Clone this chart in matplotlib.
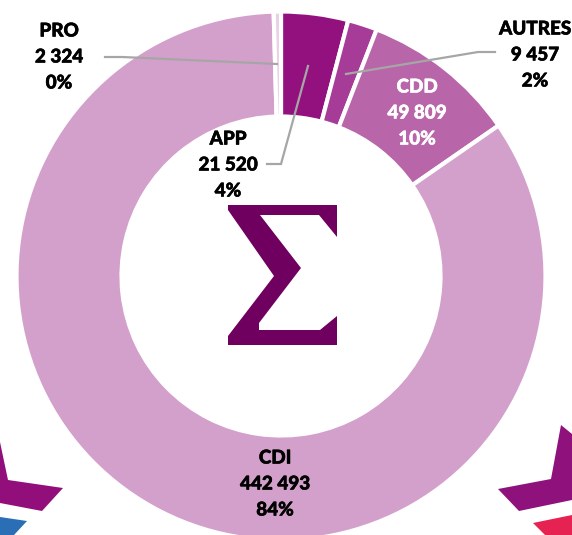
import matplotlib
matplotlib.use("Agg")
import matplotlib.pyplot as plt
import matplotlib.patheffects as pe
from matplotlib.patches import Polygon

# slices, clockwise from 12 o'clock
categories = ["APP", "AUTRES", "CDD", "CDI", "PRO"]
values = [21520, 9457, 49809, 442493, 2324]
value_labels = ["21 520", "9 457", "49 809", "442 493", "2 324"]
pct_labels = ["4%", "2%", "10%", "84%", "0%"]
colors = ["#93117E", "#A63C97", "#B865A9", "#D3A0CB", "#E9D0E5"]

W, H = 572, 535
CX, CY = 281, 276
R_OUT, R_IN = 264.5, 159.5

plt.rcParams["font.family"] = ["Lato", "DejaVu Sans"]

fig = plt.figure(figsize=(W / 100, H / 100), dpi=100)
ax = fig.add_axes([0, 0, 1, 1])

# y axis is flipped below, so counterclock here reads as clockwise on screen
ax.pie(
    values,
    colors=colors,
    center=(CX, CY),
    radius=R_OUT,
    startangle=-90,
    counterclock=True,
    wedgeprops={"width": R_OUT - R_IN, "edgecolor": "white", "linewidth": 3},
)
ax.set_xlim(0, W)
ax.set_ylim(H, 0)
ax.set_aspect("equal")
ax.axis("off")

# leader lines
leaders = {
    "PRO": ([105, 122, 277], [57, 57, 64]),
    "AUTRES": ([346, 478, 495], [74, 52, 52]),
    "APP": ([267, 281, 308], [164, 164, 66]),
}
for xs, ys in leaders.values():
    ax.plot(xs, ys, color="#A6A6A6", lw=1.6, solid_joinstyle="miter")

label_pos = {
    "APP": (228, 165),
    "AUTRES": (535, 55),
    "CDD": (417, 113),
    "CDI": (275, 484),
    "PRO": (59, 57),
}
for cat, val, pct in zip(categories, value_labels, pct_labels):
    x, y = label_pos[cat]
    color = "white" if cat == "CDD" else "black"
    for dy, txt in zip((-26, 0, 26), (cat, val, pct)):
        t = ax.text(x, y + dy, txt, ha="center", va="center", fontsize=13.6, color=color, fontweight=900)
        # Lato's heaviest face here is a bit light, thicken it slightly
        t.set_path_effects([pe.withStroke(linewidth=0.4, foreground=color)])

# sigma in the middle of the ring
sigma = [(228, 205), (337, 205), (337, 237), (319, 215), (260, 215), (301, 268),
         (259, 323), (259, 330), (320, 330), (337, 316), (337, 345), (228, 345),
         (228, 336), (274, 276), (228, 210)]
ax.add_patch(Polygon(sigma, closed=True, fc="#700060", ec="none"))

# bits of the neighbouring pictograms, cut by the image edge
corner_shapes = [
    ([(0, 442), (8, 480), (63, 488), (42, 511), (0, 503)], "#920F7B"),
    ([(0, 517), (27, 521), (14, 535), (0, 535)], "#2A6EB5"),
    ([(561, 425), (572, 434), (572, 500), (519, 511), (498, 489), (551, 479)], "#8E117C"),
    ([(533, 523), (572, 515), (572, 535), (545, 535)], "#E62253"),
]
for pts, col in corner_shapes:
    ax.add_patch(Polygon(pts, closed=True, fc=col, ec="none"))

fig.savefig("out.png", dpi=100)
